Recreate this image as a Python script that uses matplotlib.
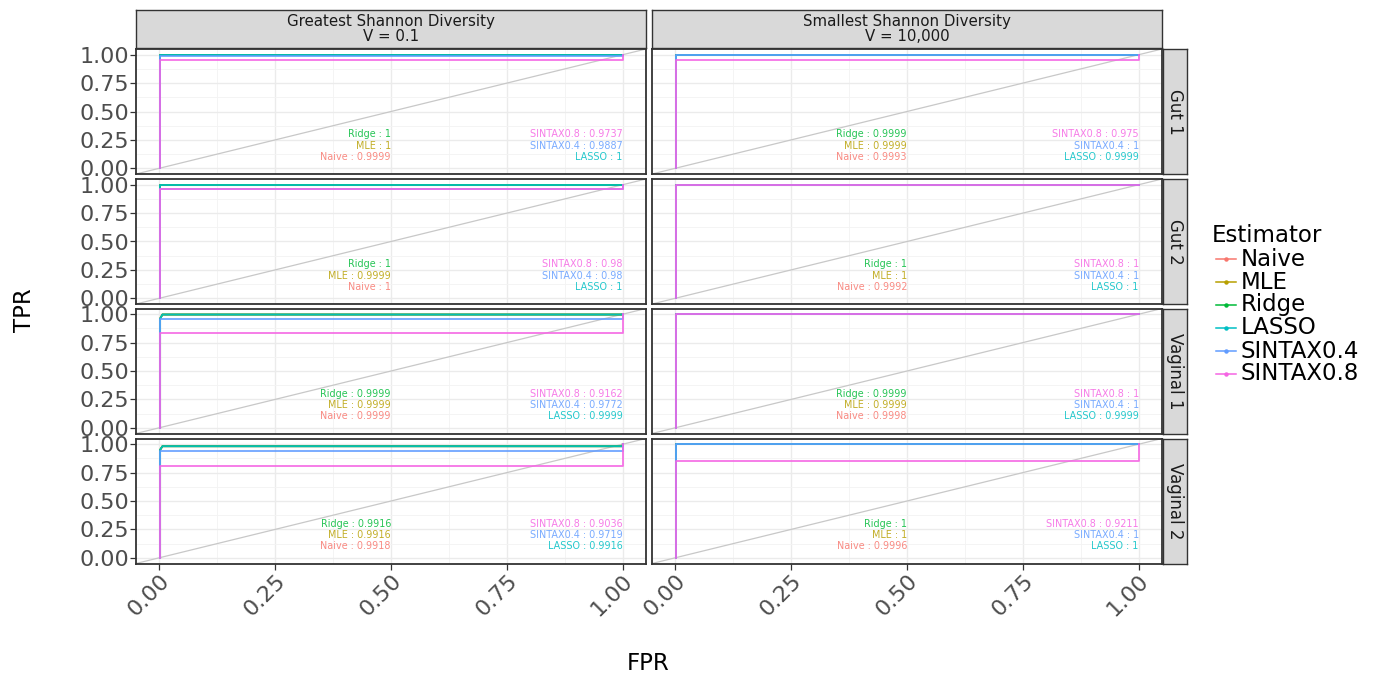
import matplotlib
matplotlib.use("Agg")
import matplotlib.pyplot as plt
from matplotlib.lines import Line2D

# estimators and ggplot default hue colours
estimators = ["Naive", "MLE", "Ridge", "LASSO", "SINTAX0.4", "SINTAX0.8"]
colors = ["#F8766D", "#B79F00", "#00BA38", "#00BFC4", "#619CFF", "#F564E3"]

datasets = ["Gut 1", "Gut 2", "Vaginal 1", "Vaginal 2"]
settings = ["Greatest Shannon Diversity\nV = 0.1", "Smallest Shannon Diversity\nV = 10,000"]

# TPR reached right after FPR = 0 (knee) and the plateau held until FPR = 1
knee = {
    ("Gut 1", 0): [1.0, 1.0, 1.0, 1.0, 0.985, 0.955],
    ("Gut 1", 1): [1.0, 1.0, 1.0, 1.0, 1.0, 0.955],
    ("Gut 2", 0): [1.0, 1.0, 1.0, 1.0, 0.965, 0.965],
    ("Gut 2", 1): [1.0, 1.0, 1.0, 1.0, 1.0, 1.0],
    ("Vaginal 1", 0): [0.96, 0.96, 0.96, 0.96, 0.955, 0.833],
    ("Vaginal 1", 1): [1.0, 1.0, 1.0, 1.0, 1.0, 1.0],
    ("Vaginal 2", 0): [0.95, 0.95, 0.95, 0.95, 0.944, 0.81],
    ("Vaginal 2", 1): [1.0, 1.0, 1.0, 1.0, 1.0, 0.85],
}
plateau = {
    ("Gut 1", 0): [1.0, 1.0, 1.0, 1.0, 0.985, 0.955],
    ("Gut 1", 1): [1.0, 1.0, 1.0, 1.0, 1.0, 0.955],
    ("Gut 2", 0): [1.0, 1.0, 1.0, 1.0, 0.965, 0.965],
    ("Gut 2", 1): [1.0, 1.0, 1.0, 1.0, 1.0, 1.0],
    ("Vaginal 1", 0): [0.997, 0.997, 0.997, 0.997, 0.955, 0.833],
    ("Vaginal 1", 1): [1.0, 1.0, 1.0, 1.0, 1.0, 1.0],
    ("Vaginal 2", 0): [0.982, 0.982, 0.982, 0.982, 0.944, 0.81],
    ("Vaginal 2", 1): [1.0, 1.0, 1.0, 1.0, 1.0, 0.85],
}
fpr_pts = [0.002, 0.002, 0.007, 1.0, 1.0]

# AUC per panel, same estimator order
auc = {
    ("Gut 1", 0): [0.9999, 1, 1, 1, 0.9887, 0.9737],
    ("Gut 1", 1): [0.9993, 0.9999, 0.9999, 0.9999, 1, 0.975],
    ("Gut 2", 0): [1, 0.9999, 1, 1, 0.98, 0.98],
    ("Gut 2", 1): [0.9992, 1, 1, 1, 1, 1],
    ("Vaginal 1", 0): [0.9999, 0.9999, 0.9999, 0.9999, 0.9772, 0.9162],
    ("Vaginal 1", 1): [0.9998, 0.9999, 0.9999, 0.9999, 1, 1],
    ("Vaginal 2", 0): [0.9918, 0.9916, 0.9916, 0.9916, 0.9719, 0.9036],
    ("Vaginal 2", 1): [0.9996, 1, 1, 1, 1, 0.9211],
}
# label placement: left block right-aligned at x=0.5, right block at x=1
left_block = ["Ridge", "MLE", "Naive"]
right_block = ["SINTAX0.8", "SINTAX0.4", "LASSO"]
label_y = [0.3, 0.2, 0.1]

W, H = 1374, 677
fig = plt.figure(figsize=(W / 100, H / 100), dpi=100)


def box(x0, y0, x1, y1):
    return [x0 / W, 1 - y1 / H, (x1 - x0) / W, (y1 - y0) / H]


col_x = [(136, 646), (652, 1162)]
row_top = [49, 179, 308.5, 438.5]
panel_h = 125
tick_col = "#4D4D4D"
frame_col = "#333333"
ticks = [0, 0.25, 0.5, 0.75, 1.0]
tick_lbl = ["0.00", "0.25", "0.50", "0.75", "1.00"]

for r, ds in enumerate(datasets):
    for c in range(2):
        x0, x1 = col_x[c]
        ax = fig.add_axes(box(x0, row_top[r], x1, row_top[r] + panel_h))
        ax.set_xlim(-0.05, 1.05)
        ax.set_ylim(-0.05, 1.05)
        ax.set_xticks(ticks)
        ax.set_yticks(ticks)
        ax.set_xticks([0.125, 0.375, 0.625, 0.875], minor=True)
        ax.set_yticks([0.125, 0.375, 0.625, 0.875], minor=True)
        ax.grid(which="major", color="#EBEBEB", lw=1.0)
        ax.grid(which="minor", color="#F3F3F3", lw=0.6)
        ax.set_axisbelow(True)
        for sp in ax.spines.values():
            sp.set_color(frame_col)
            sp.set_linewidth(1.3)
        ax.tick_params(which="minor", length=0)
        ax.tick_params(which="major", length=4, width=0.9, color=frame_col,
                       labelcolor=tick_col, labelsize=16, pad=1)
        if c == 0:
            ax.set_yticklabels(tick_lbl)
        else:
            ax.set_yticklabels([])
            ax.tick_params(axis="y", length=0)
        if r == len(datasets) - 1:
            ax.set_xticklabels(tick_lbl, rotation=45, ha="right", va="top",
                               rotation_mode="anchor")
        else:
            ax.set_xticklabels([])
            ax.tick_params(axis="x", length=0)

        # reference diagonal
        ax.axline((0, 0), slope=1, color="#C8C8C8", lw=0.9, zorder=1)

        k = knee[(ds, c)]
        p = plateau[(ds, c)]
        for i, est in enumerate(estimators):
            tpr = [0.0, k[i], p[i], p[i], 1.0]
            ax.plot(fpr_pts, tpr, color=colors[i], lw=1.3, alpha=0.9, zorder=2)

        vals = dict(zip(estimators, auc[(ds, c)]))
        for name, yy in zip(left_block, label_y):
            ax.text(0.5, yy, "{} : {:g}".format(name, vals[name]), ha="right",
                    va="center", fontsize=6.9, alpha=0.85,
                    color=colors[estimators.index(name)])
        for name, yy in zip(right_block, label_y):
            ax.text(1.0, yy, "{} : {:g}".format(name, vals[name]), ha="right",
                    va="center", fontsize=6.9, alpha=0.85,
                    color=colors[estimators.index(name)])

        # facet strips
        if r == 0:
            sax = fig.add_axes(box(x0, 10, x1, 48))
            sax.set_xticks([])
            sax.set_yticks([])
            sax.set_facecolor("#D9D9D9")
            for sp in sax.spines.values():
                sp.set_color(frame_col)
                sp.set_linewidth(1.0)
            sax.text(0.5, 0.5, settings[c], ha="center", va="center",
                     fontsize=10.8, color="#1A1A1A", linespacing=0.95,
                     transform=sax.transAxes)
        if c == 1:
            sax = fig.add_axes(box(1163, row_top[r], 1187, row_top[r] + panel_h))
            sax.set_xticks([])
            sax.set_yticks([])
            sax.set_facecolor("#D9D9D9")
            for sp in sax.spines.values():
                sp.set_color(frame_col)
                sp.set_linewidth(1.0)
            sax.text(0.5, 0.5, ds, ha="center", va="center", rotation=-90,
                     fontsize=12, color="#1A1A1A", transform=sax.transAxes)

fig.text(25 / W, 1 - 310 / H, "TPR", rotation=90, ha="center", va="center",
         fontsize=16.5)
fig.text(648 / W, 1 - 663 / H, "FPR", ha="center", va="center", fontsize=16.5)

# legend drawn by hand
fig.text(1212 / W, 1 - 235 / H, "Estimator", ha="left", va="center", fontsize=16.5)
for i, est in enumerate(estimators):
    yy = 1 - (259 + 23 * i) / H
    fig.add_artist(Line2D([1216 / W, 1236 / W], [yy, yy], color=colors[i],
                          lw=1.1, transform=fig.transFigure))
    fig.add_artist(Line2D([1226 / W], [yy], marker="o", ms=2.2, color=colors[i],
                          transform=fig.transFigure))
    fig.text(1241 / W, yy, est, ha="left", va="center", fontsize=16.5)

fig.savefig("out.png", dpi=100)
